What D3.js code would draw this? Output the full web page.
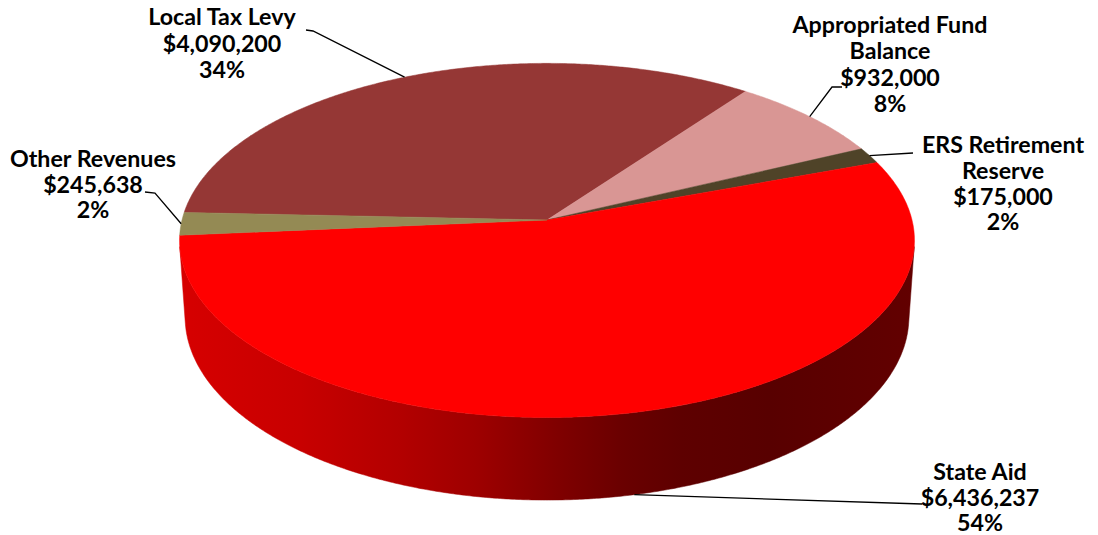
<!DOCTYPE html>
<html><head><meta charset="utf-8">
<script src="https://cdn.jsdelivr.net/npm/d3@7"></script>
<style>html,body{margin:0;padding:0;background:#fff;} svg{display:block;}</style>
</head><body>
<svg id="chart" width="1098" height="535"></svg>
<script>
// ---- data ----
const categories = ["Local Tax Levy", "Appropriated Fund Balance", "ERS Retirement Reserve", "State Aid", "Other Revenues"];
const values = [4090200, 932000, 175000, 6436237, 245638];
const percentLabels = ["34%", "8%", "2%", "54%", "2%"];
const nameLines = [["Local Tax Levy"], ["Appropriated Fund", "Balance"], ["ERS Retirement", "Reserve"], ["State Aid"], ["Other Revenues"]];
const topColors = ["#953735", "#D99694", "#4F4328", "#FF0000", "#948A54"];
const sideColors = ["#6E2725", "#A36F6D", "#3A311D", "url(#stateSide)", "#6E6740"];

// ---- layout ----
const W = 1098, H = 535;
const cx = 547, cy = 220, R = 365, depthH = 88;
const phi = 28.6 * Math.PI / 180, Dcam = 2776;
const startDeg = 272.5;

const svg = d3.select("#chart");
const defs = svg.append("defs");
const grad = defs.append("linearGradient").attr("id", "stateSide")
  .attr("gradientUnits", "userSpaceOnUse").attr("x1", 183).attr("x2", 915).attr("y1", 0).attr("y2", 0);
[[0, "#D60000"], [0.16, "#C80000"], [0.3, "#B20000"], [0.4, "#9E0000"], [0.51, "#800000"],
 [0.6, "#6A0000"], [0.68, "#5E0000"], [0.8, "#580000"], [1, "#620000"]]
  .forEach(([o, c]) => grad.append("stop").attr("offset", o).attr("stop-color", c));

function proj(theta, Y, r) {
  const rr = (r === undefined) ? R : r;
  const X = rr * Math.sin(theta), Z = -rr * Math.cos(theta);
  const depth = Z * Math.cos(phi) + Y * Math.sin(phi);
  const s = Dcam / (Dcam - depth);
  return [cx + X * s, cy + (Z * Math.sin(phi) - Y * Math.cos(phi)) * s];
}
function arcPts(a0, a1, Y) {
  const n = Math.max(2, Math.ceil(Math.abs(a1 - a0) / (0.4 * Math.PI / 180)));
  return d3.range(n + 1).map(i => proj(a0 + (a1 - a0) * i / n, Y));
}

const pie = d3.pie().sort(null).value(d => d)
  .startAngle(startDeg * Math.PI / 180).endAngle((startDeg + 360) * Math.PI / 180);
const arcs = pie(values);
const line = d3.line();

// visible wall range
const thV = Math.acos(-R / (Dcam * Math.cos(phi)));
const visLo = thV, visHi = 2 * Math.PI - thV;

const gWalls = svg.append("g"), gTops = svg.append("g");
arcs.forEach((a, i) => {
  [0, -2 * Math.PI, 2 * Math.PI].forEach(off => {
    const lo = Math.max(a.startAngle + off, visLo), hi = Math.min(a.endAngle + off, visHi);
    if (hi > lo) {
      const pts = arcPts(lo, hi, 0).concat(arcPts(hi, lo, -depthH));
      gWalls.append("path").attr("d", line(pts) + "Z").attr("fill", sideColors[i])
        .attr("stroke", sideColors[i]).attr("stroke-width", 0.5);
    }
  });
});
arcs.forEach((a, i) => {
  const pts = [proj(0, 0, 0)].concat(arcPts(a.startAngle, a.endAngle, 0));
  gTops.append("path").attr("d", line(pts) + "Z").attr("fill", topColors[i])
    .attr("stroke", topColors[i]).attr("stroke-width", 0.5);
});

// ---- labels ----
const fmt = d3.format("$,");
const labelLayout = [
  {x: 222, y: 25, lh: 26.5, lead: [[306, 30], [313, 31]], bottom: false},
  {x: 890, y: 33, lh: 26.3, lead: [[842, 87], [832, 87]], bottom: false},
  {x: 1003, y: 153, lh: 25.8, lead: [[913, 153]], bottom: false},
  {x: 980, y: 480, lh: 25.5, lead: [[922, 504]], bottom: true},
  {x: 93, y: 167, lh: 25.5, lead: [[145, 192], [155, 193]], bottom: false}
];
const gLab = svg.append("g").attr("font-family", "Lato, 'Open Sans', sans-serif")
  .attr("font-weight", "bold").attr("fill", "#000");
// fit font size
const probe = gLab.append("text").attr("font-size", 20).text("Appropriated Fund");
const fs = 20 * 195 / probe.node().getComputedTextLength();
probe.remove();
gLab.attr("font-size", fs.toFixed(2));

arcs.forEach((a, i) => {
  const L = labelLayout[i];
  const mid = (a.startAngle + a.endAngle) / 2;
  const anchor = proj(mid, L.bottom ? -depthH : 0);
  svg.append("path").attr("d", line(L.lead.concat([anchor])))
    .attr("fill", "none").attr("stroke", "#000").attr("stroke-width", 1.3);
  const lines = nameLines[i].concat([fmt(values[i]), percentLabels[i]]);
  const t = gLab.append("text").attr("text-anchor", "middle");
  lines.forEach((s, k) => t.append("tspan").attr("x", L.x).attr("y", L.y + k * L.lh).text(s));
});
</script>
</body></html>
